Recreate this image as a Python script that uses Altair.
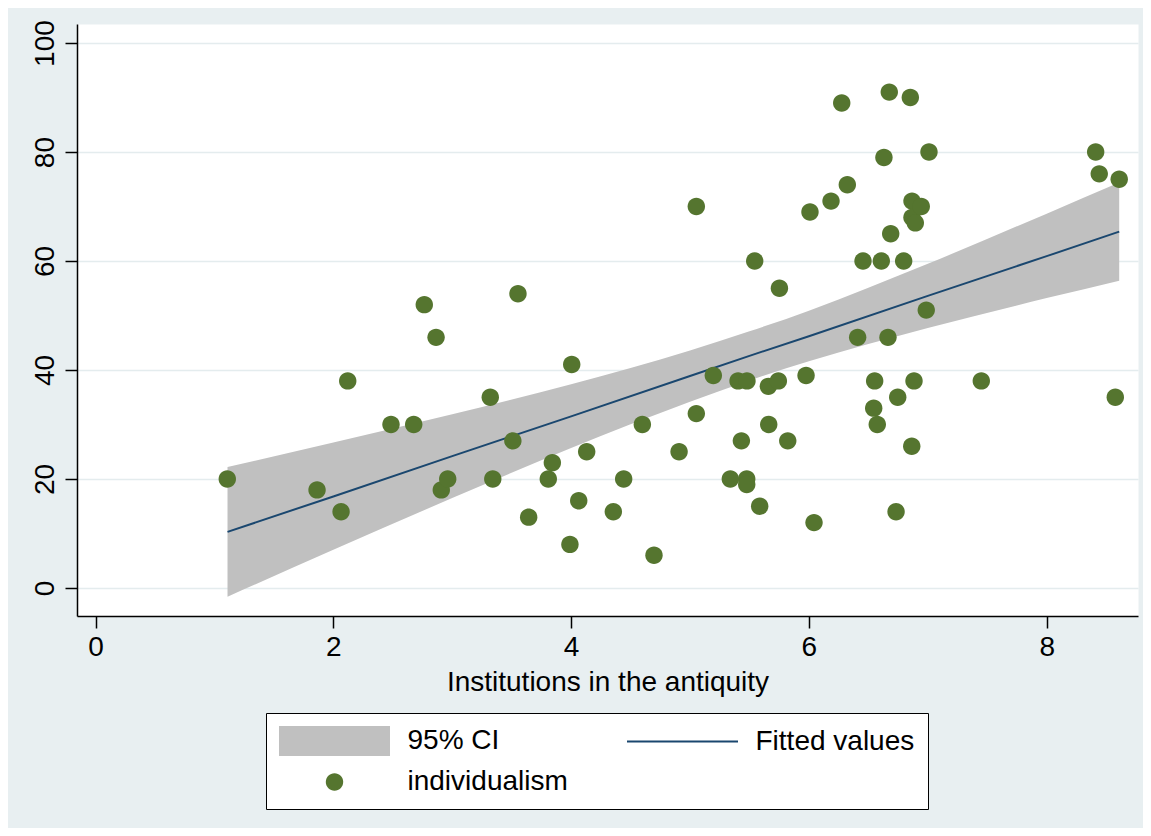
import altair as alt
import pandas as pd

# ---- data ----
inst_x = [1.108, 1.863, 2.065, 2.121, 2.485, 2.676, 2.765, 2.864, 2.908, 2.962,
          3.320, 3.341, 3.510, 3.553, 3.643, 3.808, 3.842, 3.990, 4.005, 4.064,
          4.131, 4.355, 4.442, 4.599, 4.697, 4.908, 5.053, 5.053, 5.196, 5.339,
          5.404, 5.432, 5.479, 5.477, 5.477, 5.544, 5.586, 5.659, 5.662, 5.743,
          5.752, 5.822, 5.976, 6.009, 6.043, 6.186, 6.276, 6.323, 6.410, 6.455,
          6.545, 6.553, 6.575, 6.609, 6.631, 6.665, 6.676, 6.688, 6.733, 6.747,
          6.797, 6.853, 6.867, 6.865, 6.867, 6.884, 6.895, 6.945, 6.987, 7.010,
          7.450, 8.412, 8.442, 8.610, 8.577]
indiv_y = [20, 18, 14, 38, 30, 30, 52, 46, 18, 20,
           35, 20, 27, 54, 13, 20, 23, 8, 41, 16,
           25, 14, 20, 30, 6, 25, 70, 32, 39, 20,
           38, 27, 38, 20, 19, 60, 15, 37, 30, 38,
           55, 27, 39, 69, 12, 71, 89, 74, 46, 60,
           33, 38, 30, 60, 79, 46, 91, 65, 14, 35,
           60, 90, 71, 26, 68, 38, 67, 70, 51, 80,
           38, 80, 76, 75, 35]

fit_x = [1.11, 2.0, 3.0, 4.0, 5.0, 5.5, 6.0, 7.0, 8.0, 8.61]
fit_y = [10.3, 16.8, 24.2, 31.5, 38.9, 42.6, 46.2, 53.6, 60.9, 65.4]
ci_lo = [-1.6, 7.0, 16.5, 25.7, 34.2, 38.1, 41.6, 47.7, 53.2, 56.4]
ci_hi = [22.2, 26.7, 31.9, 37.4, 43.6, 47.1, 50.9, 59.5, 68.7, 74.4]

series_names = ["95% CI", "Fitted values", "individualism"]
x_ticks = [0, 2, 4, 6, 8]
y_ticks = [0, 20, 40, 60, 80, 100]

# ---- styles ----
BG = "#e8eff1"
CI_GRAY = "#c0c0c0"
NAVY = "#1a476f"
GREEN = "#55752f"
FONT = "Liberation Sans"
FS = 28

pts = pd.DataFrame({"x": inst_x, "y": indiv_y, "series": "individualism"})
band = pd.DataFrame({"x": fit_x, "fit": fit_y, "lo": ci_lo, "hi": ci_hi})

x_scale = alt.Scale(domain=[-0.156, 8.768], nice=False, zero=False)
y_scale = alt.Scale(domain=[-5.14, 103.5], nice=False, zero=False)

x_axis = alt.Axis(values=x_ticks, format="d", title="Institutions in the antiquity", grid=False,
                  labelPadding=5, titlePadding=7)
y_axis = alt.Axis(values=y_ticks, format="d", title=None, grid=True, labelAngle=270,
                  labelAlign="center", labelBaseline="alphabetic", labelPadding=12)

legend = alt.Legend(orient="none", legendX=189, legendY=689, columns=2, direction="horizontal",
                    fillColor="white", strokeColor="black", padding=13,
                    labelFont=FONT, labelFontSize=FS, labelColor="black",
                    symbolOffset=40.5, labelOffset=58, columnPadding=59, rowPadding=11,
                    symbolSize=900, symbolStrokeWidth=0, labelLimit=600,
                    title=None)

# symbol paths (1 unit = 15 px at size 900)
rect_path = "M-3.7,-1H3.7V1H-3.7Z"
line_path = "M-3.7,-0.07H3.7V0.07H-3.7Z"
circ_path = "M-0.58,0A0.58,0.58,0,1,1,0.58,0A0.58,0.58,0,1,1,-0.58,0Z"

area = alt.Chart(band).mark_area(color=CI_GRAY, opacity=1, interpolate="monotone").encode(
    x=alt.X("x:Q", scale=x_scale, axis=x_axis),
    y=alt.Y("lo:Q", scale=y_scale, axis=y_axis),
    y2="hi:Q",
)
line = alt.Chart(band).mark_line(color=NAVY, strokeWidth=2).encode(
    x=alt.X("x:Q", scale=x_scale),
    y=alt.Y("fit:Q", scale=y_scale),
)
points = alt.Chart(pts).mark_point(filled=True, size=900, opacity=1).encode(
    x=alt.X("x:Q", scale=x_scale),
    y=alt.Y("y:Q", scale=y_scale),
    color=alt.Color("series:N",
                    scale=alt.Scale(domain=series_names, range=[CI_GRAY, NAVY, GREEN]),
                    legend=legend),
    shape=alt.Shape("series:N",
                    scale=alt.Scale(domain=series_names, range=[rect_path, line_path, circ_path]),
                    legend=legend),
)

chart = alt.layer(area, line, points).properties(
    width=1061, height=592, background=BG,
    padding={"left": 69, "top": 16, "right": 5, "bottom": 212},
    autosize=alt.AutoSizeParams(type="none"),
).configure_view(
    fill="white", stroke="transparent"
).configure_axis(
    domainColor="black", domainWidth=1.5,
    tickColor="black", tickWidth=1.5, tickSize=12,
    labelFont=FONT, labelFontSize=FS, labelColor="black",
    titleFont=FONT, titleFontSize=FS, titleColor="black", titleFontWeight="normal",
    gridColor="#e4ecee", gridWidth=1.6,
)

chart.save("out.html", embed_options={"renderer": "svg", "actions": False})
